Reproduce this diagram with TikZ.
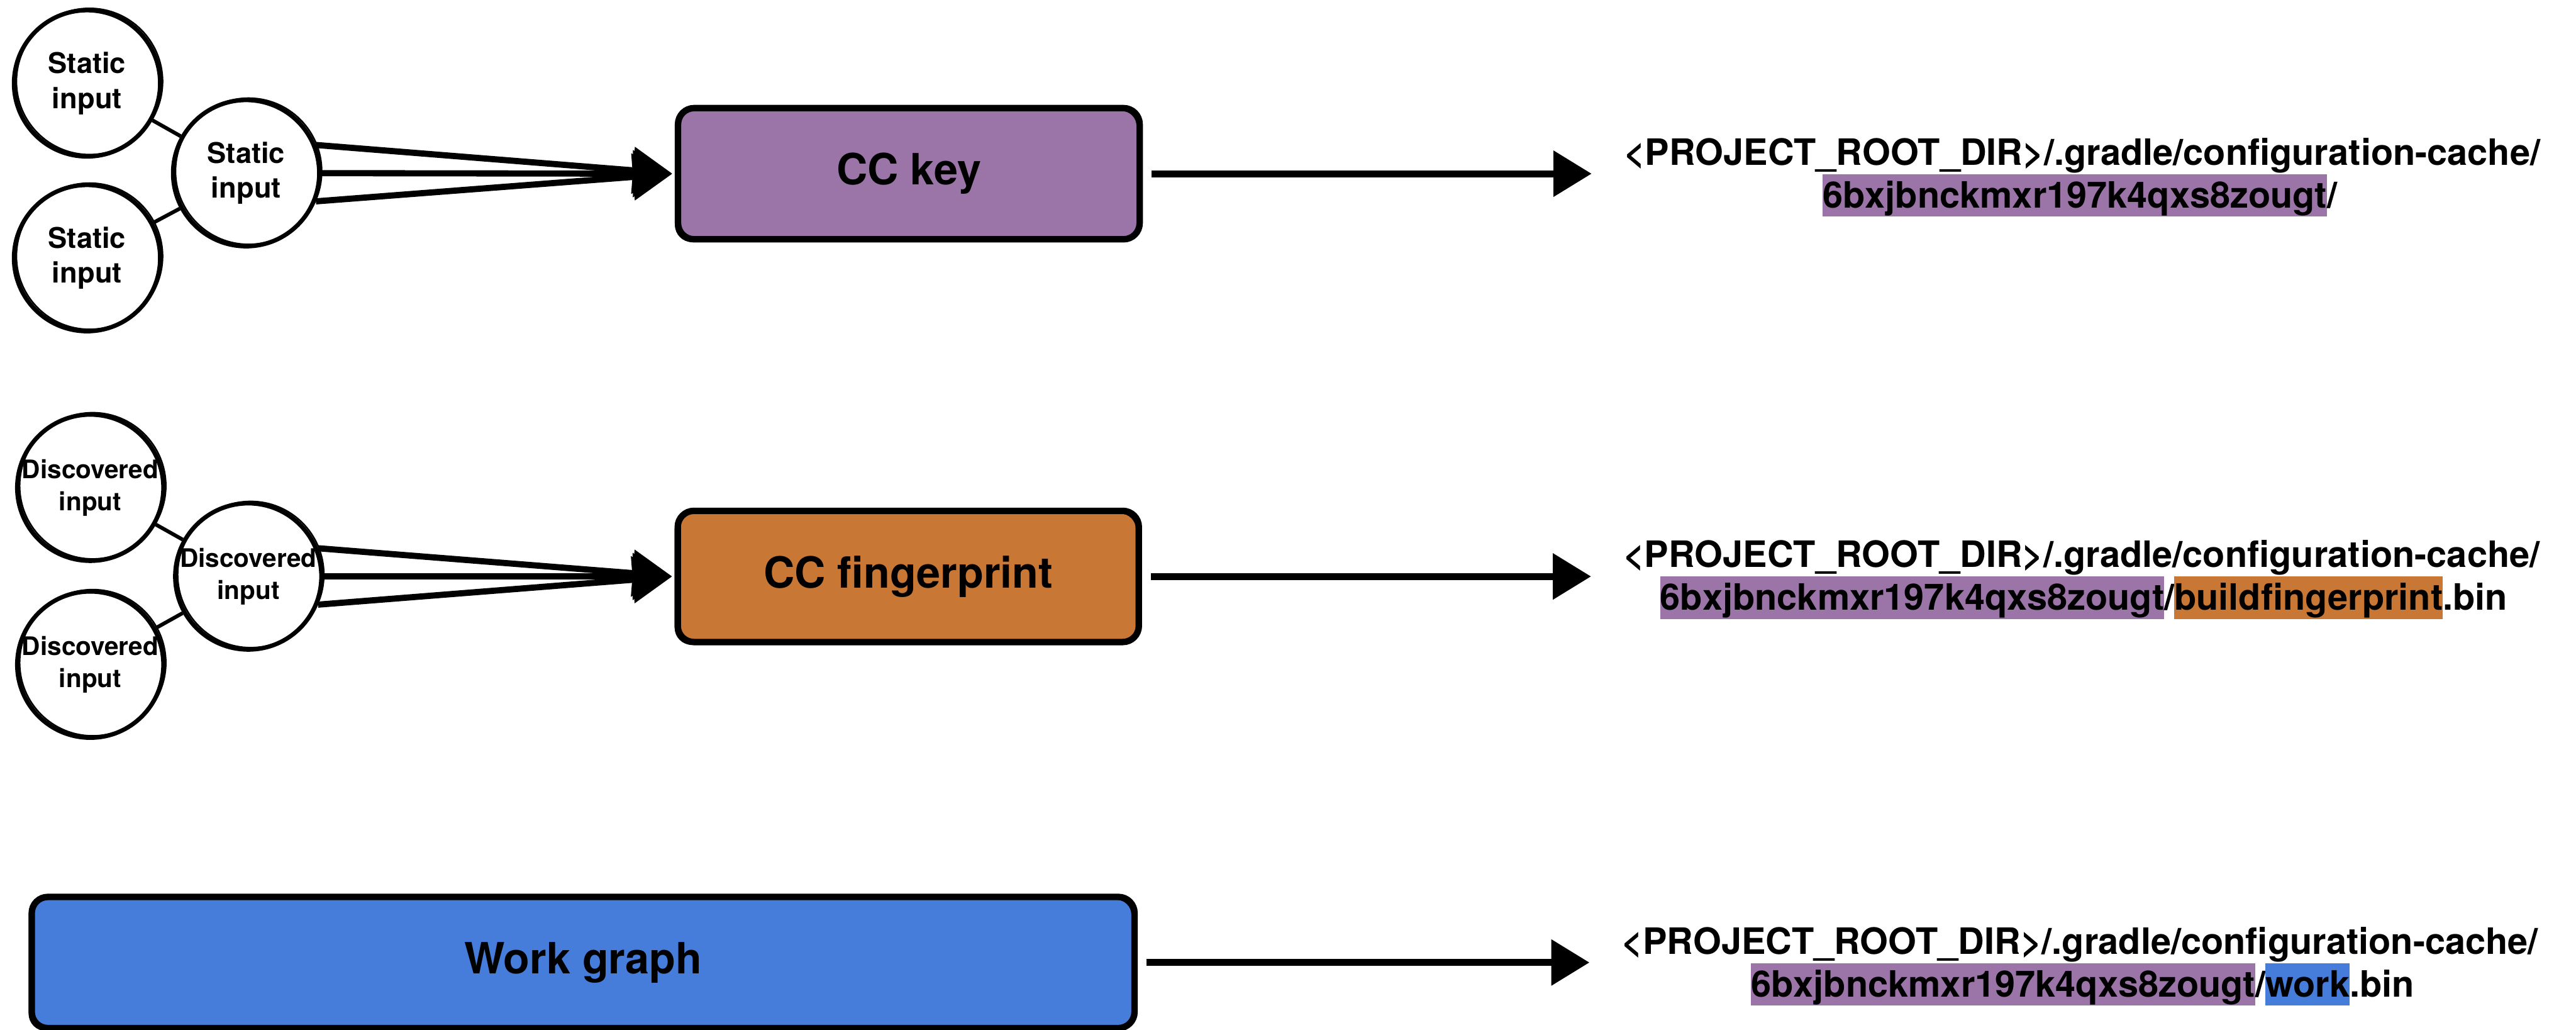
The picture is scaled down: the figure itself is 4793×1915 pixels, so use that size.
\documentclass[tikz,border=0pt]{standalone}
\usepackage{fontspec}
\setmainfont{TeX Gyre Heros}
\usetikzlibrary{arrows.meta}
\definecolor{ccpurple}{RGB}{155,117,168}
\definecolor{ccorange}{RGB}{201,119,52}
\definecolor{ccblue}{RGB}{70,125,218}
\newcommand{\hlbox}[2]{{\setlength{\fboxsep}{0pt}\colorbox{#1}{\rule[-1.6pt]{0pt}{7.9pt}#2}}}
\newcommand{\twolines}[2]{\makebox[0pt]{#1}\\\makebox[0pt]{#2}}
\tikzset{
  inp/.style={circle, draw, line width=0.8pt, minimum size=27.2pt, inner sep=0pt, align=center,
    postaction={draw, line width=0.3pt, transform canvas={shift={(0.45pt,0.35pt)}}}},
  statictxt/.style={font=\fontsize{5.3pt}{6.5pt}\selectfont\bfseries},
  disctxt/.style={font=\fontsize{4.75pt}{6pt}\selectfont\bfseries},
  ccbox/.style={draw, rounded corners=3pt, line width=1.2pt, inner sep=0pt, minimum height=24.4pt,
    font=\fontsize{8pt}{9.6pt}\selectfont\bfseries,
    postaction={draw, line width=0.35pt, rounded corners=3pt, transform canvas={shift={(-0.4pt,-0.35pt)}}}},
  pathtxt/.style={anchor=base, inner sep=0pt, font=\fontsize{6.75pt}{8pt}\selectfont\bfseries},
  link/.style={line width=0.7pt},
  fan/.style={line width=1.15pt, -{Triangle[length=7.3pt,width=8.5pt]}, shorten >=0.5pt},
  outarrow/.style={line width=1.3pt, -{Triangle[length=7.1pt,width=8.3pt]}, shorten <=1.6pt, shorten >=5.8pt},
}
\begin{document}
\begin{tikzpicture}[x=0.1pt,y=-0.1pt]
\useasboundingbox (0,0) rectangle (4793,1915);

% ---- Row 1: static inputs -> CC key
\node[inp, statictxt] (s1) at (162,155) {\twolines{Static}{input}};
\node[inp, statictxt] (s2) at (458,322) {\twolines{Static}{input}};
\node[inp, statictxt] (s3) at (162,480) {\twolines{Static}{input}};
\node[ccbox, fill=ccpurple, minimum width=85.9pt] (ckey) at (1691,323) {CC key};

\draw[link] (s1) -- (s2);
\draw[link] (s3) -- (s2);
\draw[fan] (s2.22) -- (ckey.west);
\draw[fan] (s2.east) -- (ckey.west);
\draw[fan] (s2.-22) -- (ckey.west);

\node[pathtxt] (p1a) at (3874,307) {<PROJECT\_ROOT\_DIR>/.gradle/configuration-cache/};
\node[pathtxt] (p1b) at (3870,387) {\hlbox{ccpurple}{6bxjbnckmxr197k4qxs8zougt}/};
\draw[outarrow] (ckey.east) -- (ckey.east -| p1a.west);

% ---- Row 2: discovered inputs -> CC fingerprint
\node[inp, disctxt] (d1) at (168,907) {\twolines{Discovered}{input}};
\node[inp, disctxt] (d2) at (462,1072) {\twolines{Discovered}{input}};
\node[inp, disctxt] (d3) at (168,1236) {\twolines{Discovered}{input}};
\node[ccbox, fill=ccorange, minimum width=85.8pt] (cfp) at (1690,1072) {CC fingerprint};

\draw[link] (d1) -- (d2);
\draw[link] (d3) -- (d2);
\draw[fan] (d2.22) -- (cfp.west);
\draw[fan] (d2.east) -- (cfp.west);
\draw[fan] (d2.-22) -- (cfp.west);

\node[pathtxt] (p2a) at (3873,1055) {<PROJECT\_ROOT\_DIR>/.gradle/configuration-cache/};
\node[pathtxt] (p2b) at (3877,1135) {\hlbox{ccpurple}{6bxjbnckmxr197k4qxs8zougt}/\hlbox{ccorange}{buildfingerprint}.bin};
\draw[outarrow] (cfp.east) -- (cfp.east -| p2a.west);

% ---- Row 3: work graph
\node[ccbox, fill=ccblue, minimum width=205.2pt] (wg) at (1085,1790) {Work graph};
\node[pathtxt] (p3a) at (3870,1774) {<PROJECT\_ROOT\_DIR>/.gradle/configuration-cache/};
\node[pathtxt] (p3b) at (3875,1854) {\hlbox{ccpurple}{6bxjbnckmxr197k4qxs8zougt}/\hlbox{ccblue}{work}.bin};
\draw[outarrow] (wg.east) -- (wg.east -| p3a.west);
\end{tikzpicture}
\end{document}
